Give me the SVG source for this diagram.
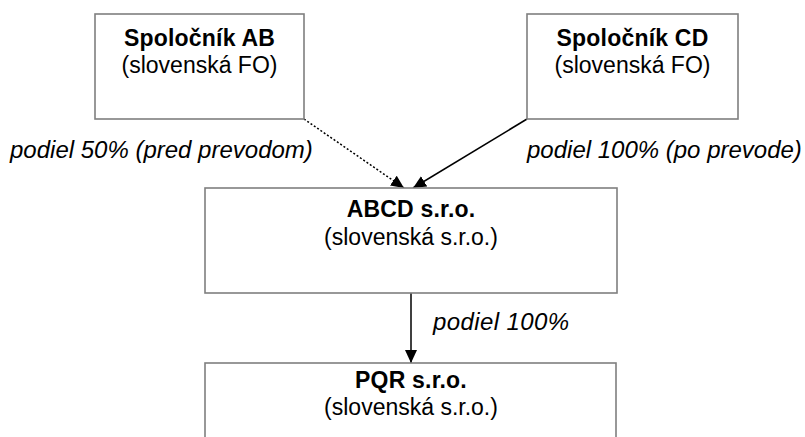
<svg xmlns="http://www.w3.org/2000/svg" width="805" height="437" viewBox="0 0 805 437">
<defs>
<marker id="arr" markerWidth="14" markerHeight="12" refX="13" refY="6" orient="auto" markerUnits="userSpaceOnUse">
<path d="M0,0 L13,6 L0,12 Z" fill="#000"/>
</marker>
<style>
.box{fill:#fff;stroke:#7f7f7f;stroke-width:1.6}
.t{font-family:"Liberation Sans",Arial,sans-serif;font-size:23px;fill:#000;text-anchor:middle}
.b{font-weight:bold;letter-spacing:0.2px}
.lab{font-family:"Liberation Sans",Arial,sans-serif;font-size:24px;font-style:italic;fill:#000}
.c{stroke:#000;stroke-width:1.5;fill:none}
</style>
</defs>
<rect width="805" height="437" fill="#fff"/>
<g id="connectors">
<line class="c" x1="304" y1="119" x2="404" y2="188" stroke-dasharray="2,2" marker-end="url(#arr)"/>
<line class="c" x1="527" y1="119" x2="413" y2="188" marker-end="url(#arr)"/>
<line class="c" x1="411" y1="293" x2="411" y2="363" marker-end="url(#arr)"/>
<text class="lab" x="10" y="158">podiel 50% (pred prevodom)</text>
<text class="lab" x="527" y="158">podiel 100% (po prevode)</text>
<text class="lab" x="433" y="330" letter-spacing="0.4">podiel 100%</text>
</g>
<g id="ab">
<rect class="box" x="95" y="14" width="209" height="105"/>
<text class="t b" x="199.5" y="46">Spoločník AB</text>
<text class="t" x="199.5" y="73">(slovenská FO)</text>
</g>
<g id="cd">
<rect class="box" x="527" y="14" width="211" height="105"/>
<text class="t b" x="632.5" y="46">Spoločník CD</text>
<text class="t" x="632.5" y="73">(slovenská FO)</text>
</g>
<g id="abcd">
<rect class="box" x="205" y="188" width="412" height="105"/>
<text class="t b" x="411" y="217">ABCD s.r.o.</text>
<text class="t" x="411" y="245">(slovenská s.r.o.)</text>
</g>
<g id="pqr">
<rect class="box" x="205" y="363" width="411" height="105"/>
<text class="t b" x="411" y="388">PQR s.r.o.</text>
<text class="t" x="411" y="415">(slovenská s.r.o.)</text>
</g>
</svg>
